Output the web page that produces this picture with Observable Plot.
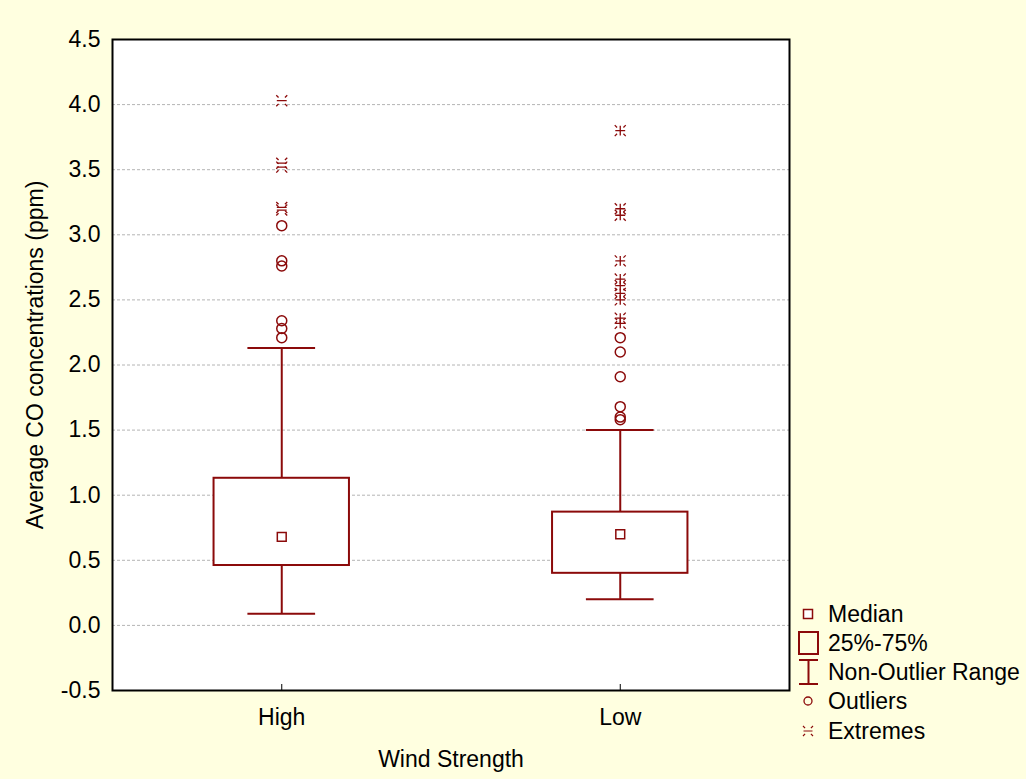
<!DOCTYPE html>
<html>
<head>
<meta charset="utf-8">
<script src="https://cdn.jsdelivr.net/npm/d3@7"></script>
<script src="https://cdn.jsdelivr.net/npm/@observablehq/plot@0.6"></script>
<style>
  html, body { margin: 0; padding: 0; background: #FFFFE0; }
  #wrap { position: relative; width: 1026px; height: 779px; background: #FFFFE0; }
  #legend { position: absolute; left: 790px; top: 595px; }
</style>
</head>
<body>
<div id="wrap"></div>
<script>
// ---- data ----
const categories = ["High", "Low"];
const whiskerLow = [0.09, 0.20];
const q1 = [0.46, 0.40];
const median = [0.68, 0.70];
const q3 = [1.13, 0.87];
const whiskerHigh = [2.13, 1.50];
const outliersHigh = [2.21, 2.28, 2.34, 2.76, 2.80, 3.07];
const outliersLow = [1.58, 1.60, 1.68, 1.91, 2.10, 2.21];
const extremesHigh = [3.19, 3.21, 3.52, 3.55, 4.03];
const extremesLow = [2.32, 2.36, 2.50, 2.55, 2.61, 2.66, 2.80, 3.15, 3.20, 3.80];
const yTickValues = [-0.5, 0, 0.5, 1, 1.5, 2, 2.5, 3, 3.5, 4, 4.5];
const gridValues = [0, 0.5, 1, 1.5, 2, 2.5, 3, 3.5, 4];
const yLabel = "Average CO concentrations (ppm)";
const xLabel = "Wind Strength";
const legendLabels = ["Median", "25%-75%", "Non-Outlier Range", "Outliers", "Extremes"];

const color = "#8B0A0A";
const font = "'Liberation Sans', Arial, sans-serif";

const boxes = categories.map((c, i) => ({
  c, x: i + 0.5, lo: whiskerLow[i], q1: q1[i], med: median[i], q3: q3[i], hi: whiskerHigh[i]
}));
const outliers = [
  ...outliersHigh.map(v => ({x: 0.5, y: v})),
  ...outliersLow.map(v => ({x: 1.5, y: v}))
];
const extHigh = extremesHigh.map(v => ({x: 0.5, y: v}));
const extLow = extremesLow.map(v => ({x: 1.5, y: v}));

const extremeSymbol = (cross) => ({
  draw(ctx, size) {
    const h = Math.sqrt(size / Math.PI);
    const t = h * 0.42;
    for (const [sx, sy] of [[-1, -1], [1, -1], [-1, 1], [1, 1]]) {
      ctx.moveTo(sx * h, sy * h);
      ctx.lineTo(sx * (h - t), sy * (h - t));
    }
    ctx.moveTo(-h * 0.9, 0); ctx.lineTo(h * 0.9, 0);
    if (cross) { ctx.moveTo(0, -h * 0.9); ctx.lineTo(0, h * 0.9); }
  }
});

const chart = Plot.plot({
  width: 1026,
  height: 779,
  marginLeft: 112,
  marginRight: 237,
  marginTop: 39,
  marginBottom: 89,
  x: {domain: [0, 2]},
  y: {domain: [-0.5, 4.5]},
  style: {background: "transparent", fontFamily: font, fontSize: "23px", color: "black"},
  marks: [
    Plot.frame({fill: "white", stroke: null}),
    Plot.gridY(gridValues, {stroke: "#b4b4b4", strokeOpacity: 1, strokeDasharray: "3,2"}),
    Plot.axisY({
      ticks: yTickValues, tickFormat: d => d.toFixed(1), tickSize: 0, tickPadding: 12, label: null
    }),
    Plot.text([yLabel], {
      frameAnchor: "left", textAnchor: "middle", rotate: -90, dx: -77, dy: -10, text: d => d, fontSize: 23
    }),
    Plot.axisX({
      ticks: [0.5, 1.5], tickFormat: d => categories[Math.floor(d)], tickSize: -6, tickPadding: 24,
      label: xLabel, labelAnchor: "center", labelArrow: "none", labelOffset: 76
    }),
    Plot.ruleX(boxes, {x: "x", y1: "lo", y2: "q1", stroke: color, strokeWidth: 2}),
    Plot.ruleX(boxes, {x: "x", y1: "q3", y2: "hi", stroke: color, strokeWidth: 2}),
    Plot.ruleY(boxes, {y: "lo", x1: d => d.x - 0.1, x2: d => d.x + 0.1, stroke: color, strokeWidth: 2}),
    Plot.ruleY(boxes, {y: "hi", x1: d => d.x - 0.1, x2: d => d.x + 0.1, stroke: color, strokeWidth: 2}),
    Plot.rect(boxes, {x1: d => d.x - 0.2, x2: d => d.x + 0.2, y1: "q1", y2: "q3", fill: "white", stroke: color, strokeWidth: 2}),
    Plot.dot(boxes, {x: "x", y: "med", symbol: "square", r: 5, stroke: color, fill: "white", strokeWidth: 1.5}),
    Plot.dot(outliers, {x: "x", y: "y", r: 5, stroke: color, fill: "none", strokeWidth: 1.5}),
    Plot.dot(extHigh, {x: "x", y: "y", r: 5.5, symbol: extremeSymbol(false), stroke: color, fill: "none", strokeWidth: 1.3}),
    Plot.dot(extLow, {x: "x", y: "y", r: 5.5, symbol: extremeSymbol(true), stroke: color, fill: "none", strokeWidth: 1.3}),
    Plot.frame({stroke: "black", strokeWidth: 2})
  ]
});

const wrap = document.getElementById("wrap");
wrap.appendChild(chart);

// ---- legend ----
const ns = "http://www.w3.org/2000/svg";
const lg = document.createElementNS(ns, "svg");
lg.setAttribute("id", "legend");
lg.setAttribute("width", 236);
lg.setAttribute("height", 160);
const rowY = [19, 48, 77, 106, 136];
const sx = 18;
function el(tag, attrs) {
  const e = document.createElementNS(ns, tag);
  for (const k in attrs) e.setAttribute(k, attrs[k]);
  lg.appendChild(e);
  return e;
}
// median
el("rect", {x: sx - 4.5, y: rowY[0] - 4.5, width: 9, height: 9, fill: "white", stroke: color, "stroke-width": 1.5});
// box
el("rect", {x: sx - 9, y: rowY[1] - 11, width: 19, height: 22, fill: "none", stroke: color, "stroke-width": 2});
// whisker
el("path", {d: `M${sx - 9},${rowY[2] - 12}H${sx + 10}M${sx + 0.5},${rowY[2] - 12}V${rowY[2] + 12}M${sx - 9},${rowY[2] + 12}H${sx + 10}`, fill: "none", stroke: color, "stroke-width": 2});
// outlier
el("circle", {cx: sx, cy: rowY[3], r: 4, fill: "none", stroke: color, "stroke-width": 1.3});
// extreme
{
  const p = d3.path();
  extremeSymbol(false).draw(p, 5 * 5 * Math.PI);
  el("path", {d: p.toString(), transform: `translate(${sx},${rowY[4]})`, fill: "none", stroke: color, "stroke-width": 1.2});
}
legendLabels.forEach((t, i) => {
  const tx = el("text", {x: 38, y: rowY[i], "dominant-baseline": "central", "font-family": font, "font-size": 23, fill: "black"});
  tx.textContent = t;
});
wrap.appendChild(lg);
</script>
</body>
</html>
